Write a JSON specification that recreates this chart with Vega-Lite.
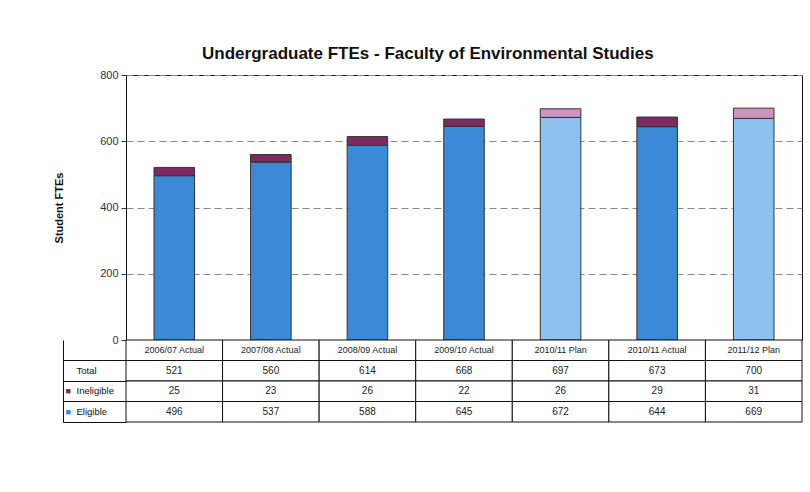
{
  "$schema": "https://vega.github.io/schema/vega-lite/v6.json",
  "background": "white",
  "padding": {"left": 53, "top": 44, "right": 2, "bottom": 5},
  "title": {"text": "Undergraduate FTEs - Faculty of Environmental Studies", "font": "Liberation Sans", "fontSize": 17, "fontWeight": "bold", "color": "#111", "offset": 6, "anchor": "middle"},
  "config": {"font": "Liberation Sans", "view": {"stroke": null}},
  "spacing": 0,
  "bounds": "flush",
  "datasets": {
    "bars": [
      {"period": "2006/07 Actual", "series": "Eligible", "value": 496},
      {"period": "2006/07 Actual", "series": "Ineligible", "value": 25},
      {"period": "2007/08 Actual", "series": "Eligible", "value": 537},
      {"period": "2007/08 Actual", "series": "Ineligible", "value": 23},
      {"period": "2008/09 Actual", "series": "Eligible", "value": 588},
      {"period": "2008/09 Actual", "series": "Ineligible", "value": 26},
      {"period": "2009/10 Actual", "series": "Eligible", "value": 645},
      {"period": "2009/10 Actual", "series": "Ineligible", "value": 22},
      {"period": "2010/11 Plan", "series": "Eligible (Plan)", "value": 672},
      {"period": "2010/11 Plan", "series": "Ineligible (Plan)", "value": 26},
      {"period": "2010/11 Actual", "series": "Eligible", "value": 644},
      {"period": "2010/11 Actual", "series": "Ineligible", "value": 29},
      {"period": "2011/12 Plan", "series": "Eligible (Plan)", "value": 669},
      {"period": "2011/12 Plan", "series": "Ineligible (Plan)", "value": 31}
    ],
    "table": [
      {"period": "2006/07 Actual", "row": "header", "text": "2006/07 Actual"},
      {"period": "2007/08 Actual", "row": "header", "text": "2007/08 Actual"},
      {"period": "2008/09 Actual", "row": "header", "text": "2008/09 Actual"},
      {"period": "2009/10 Actual", "row": "header", "text": "2009/10 Actual"},
      {"period": "2010/11 Plan", "row": "header", "text": "2010/11 Plan"},
      {"period": "2010/11 Actual", "row": "header", "text": "2010/11 Actual"},
      {"period": "2011/12 Plan", "row": "header", "text": "2011/12 Plan"},
      {"period": "2006/07 Actual", "row": "Total", "text": "521"},
      {"period": "2007/08 Actual", "row": "Total", "text": "560"},
      {"period": "2008/09 Actual", "row": "Total", "text": "614"},
      {"period": "2009/10 Actual", "row": "Total", "text": "668"},
      {"period": "2010/11 Plan", "row": "Total", "text": "697"},
      {"period": "2010/11 Actual", "row": "Total", "text": "673"},
      {"period": "2011/12 Plan", "row": "Total", "text": "700"},
      {"period": "2006/07 Actual", "row": "Ineligible", "text": "25"},
      {"period": "2007/08 Actual", "row": "Ineligible", "text": "23"},
      {"period": "2008/09 Actual", "row": "Ineligible", "text": "26"},
      {"period": "2009/10 Actual", "row": "Ineligible", "text": "22"},
      {"period": "2010/11 Plan", "row": "Ineligible", "text": "26"},
      {"period": "2010/11 Actual", "row": "Ineligible", "text": "29"},
      {"period": "2011/12 Plan", "row": "Ineligible", "text": "31"},
      {"period": "2006/07 Actual", "row": "Eligible", "text": "496"},
      {"period": "2007/08 Actual", "row": "Eligible", "text": "537"},
      {"period": "2008/09 Actual", "row": "Eligible", "text": "588"},
      {"period": "2009/10 Actual", "row": "Eligible", "text": "645"},
      {"period": "2010/11 Plan", "row": "Eligible", "text": "672"},
      {"period": "2010/11 Actual", "row": "Eligible", "text": "644"},
      {"period": "2011/12 Plan", "row": "Eligible", "text": "669"}
    ]
  },
  "vconcat": [
    {
      "width": 676,
      "height": 265,
      "data": {"name": "bars"},
      "view": {"stroke": "#111", "strokeWidth": 1},
      "mark": {"type": "bar", "stroke": "#333", "strokeWidth": 1},
      "encoding": {
        "x": {"field": "period", "type": "nominal",
              "scale": {"domain": ["2006/07 Actual", "2007/08 Actual", "2008/09 Actual", "2009/10 Actual", "2010/11 Plan", "2010/11 Actual", "2011/12 Plan"], "paddingInner": 0.58, "paddingOuter": 0.29},
              "axis": null},
        "y": {"field": "value", "type": "quantitative", "stack": "zero",
              "scale": {"domain": [0, 800]},
              "axis": {"title": "Student FTEs", "titleFontSize": 11, "titleFontWeight": "bold", "titleColor": "#111", "titlePadding": 35,
                       "values": [0, 200, 400, 600, 800], "labelFontSize": 11, "labelColor": "#333", "labelPadding": 3,
                       "tickColor": "#333", "tickSize": 5, "domainColor": "#111",
                       "grid": true, "gridColor": "#888", "gridDash": [7, 4]}},
        "color": {"field": "series", "type": "nominal",
                  "scale": {"domain": ["Eligible", "Ineligible", "Eligible (Plan)", "Ineligible (Plan)"], "range": ["#3a8ad8", "#7d2a60", "#8ec2ee", "#cf94c0"]},
                  "legend": null},
        "order": {"field": "series", "sort": "ascending"}
      }
    },
    {
      "width": 676,
      "height": 82,
      "data": {"name": "table"},
      "resolve": {"axis": {"y": "independent"}},
      "layer": [
        {
          "mark": {"type": "rect", "fill": "white", "stroke": "#111", "strokeWidth": 1},
          "encoding": {
            "x": {"field": "period", "type": "nominal",
                  "scale": {"domain": ["2006/07 Actual", "2007/08 Actual", "2008/09 Actual", "2009/10 Actual", "2010/11 Plan", "2010/11 Actual", "2011/12 Plan"], "paddingInner": 0, "paddingOuter": 0},
                  "axis": null},
            "y": {"field": "row", "type": "nominal",
                  "scale": {"domain": ["header", "Total", "Ineligible", "Eligible"], "paddingInner": 0, "paddingOuter": 0},
                  "axis": {"title": null, "values": ["header", "Total", "Ineligible", "Eligible"], "bandPosition": 1,
                           "tickSize": 63, "tickColor": "#111", "domain": false,
                           "labelExpr": "datum.value == 'header' ? '' : datum.value",
                           "labelAlign": "left", "labelPadding": -13, "labelFontSize": 9.5, "labelColor": "#111"}}
          }
        },
        {
          "mark": {"type": "text", "color": "#222"},
          "encoding": {
            "x": {"field": "period", "type": "nominal"},
            "y": {"field": "row", "type": "nominal",
                  "axis": {"title": null, "orient": "left", "offset": 63, "values": ["Total", "Ineligible", "Eligible"],
                           "ticks": false, "tickSize": 0, "domain": true, "domainColor": "#111",
                           "labelAlign": "left", "labelPadding": -2, "labelFontSize": 9,
                           "labelExpr": "datum.value == 'Total' ? '' : '■'",
                           "labelColor": {"condition": {"test": "datum.value == 'Ineligible'", "value": "#7d2a60"}, "value": "#3a8ad8"}}},
            "text": {"field": "text", "type": "nominal"},
            "size": {"condition": {"test": "datum.row == 'header'", "value": 9}, "value": 10}
          }
        }
      ]
    }
  ]
}
